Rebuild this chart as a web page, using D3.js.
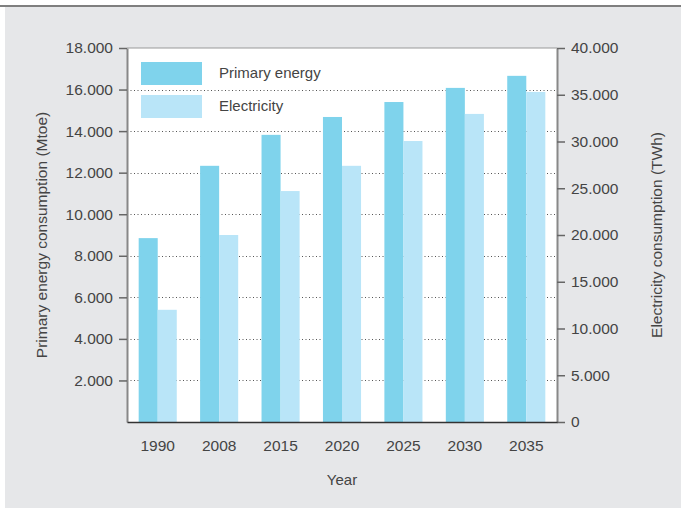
<!DOCTYPE html>
<html><head><meta charset="utf-8">
<script src="https://cdn.jsdelivr.net/npm/d3@7"></script>
<style>html,body{margin:0;padding:0;background:#fff;}svg{display:block;}text{font-family:"Liberation Sans",Arial,Helvetica,sans-serif;fill:#444;}</style>
</head><body>
<svg id="c" width="681" height="511"></svg>
<script>
const years = ["1990","2008","2015","2020","2025","2030","2035"];
const primaryEnergy = [8850, 12330, 13820, 14680, 15400, 16080, 16660];
const electricity = [12000, 20000, 24700, 27400, 30050, 32950, 35300];
const leftTicks = [2000,4000,6000,8000,10000,12000,14000,16000,18000];
const rightTicks = [0,5000,10000,15000,20000,25000,30000,35000,40000];
const seriesNames = ["Primary energy","Electricity"];
const colors = ["#7fd3ec","#b9e5f8"];

const svg = d3.select("#c");
const W=681,H=511;
const L=127,R=557,T=48,B=422;
const fmt = v => d3.format(",")(v).replace(/,/g,".");
const FF = "Liberation Sans, Arial, sans-serif";

svg.append("rect").attr("x",5).attr("y",7).attr("width",W-5).attr("height",501).attr("fill","#e6e7e9");
svg.append("line").attr("x1",0).attr("x2",W).attr("y1",6).attr("y2",6).attr("stroke","#555").attr("stroke-width",1.5);
svg.append("rect").attr("x",L).attr("y",T).attr("width",R-L).attr("height",B-T).attr("fill","#fff");

const x = d3.scaleBand().domain(years).range([L,R]).paddingInner(0.38).paddingOuter(0.19);
const xs = d3.scaleBand().domain(seriesNames).range([0,x.bandwidth()]);
const yL = d3.scaleLinear().domain([0,18000]).range([B,T]);
const yR = d3.scaleLinear().domain([0,40000]).range([B,T]);

// gridlines
svg.append("g").selectAll("line").data(leftTicks.filter(d=>d<18000)).join("line")
  .attr("x1",L).attr("x2",R).attr("y1",d=>Math.round(yL(d))+0.5).attr("y2",d=>Math.round(yL(d))+0.5)
  .attr("stroke","#555").attr("stroke-width",1).attr("stroke-dasharray","1,2.5");

// bars
const g = svg.append("g");
g.selectAll("rect.p").data(years).join("rect").attr("class","p")
  .attr("x",d=>x(d)+xs("Primary energy")).attr("width",xs.bandwidth())
  .attr("y",(d,i)=>yL(primaryEnergy[i])).attr("height",(d,i)=>B-yL(primaryEnergy[i]))
  .attr("fill",colors[0]);
g.selectAll("rect.e").data(years).join("rect").attr("class","e")
  .attr("x",d=>x(d)+xs("Electricity")).attr("width",xs.bandwidth())
  .attr("y",(d,i)=>yR(electricity[i])).attr("height",(d,i)=>B-yR(electricity[i]))
  .attr("fill",colors[1]);

// frame top
svg.append("line").attr("x1",L).attr("x2",R).attr("y1",T).attr("y2",T).attr("stroke","#999").attr("stroke-width",1);

// left axis
const ax = d3.axisLeft(yL).tickValues(leftTicks).tickFormat(fmt).tickSize(8).tickSizeOuter(0).tickPadding(6);
const gl = svg.append("g").attr("transform",`translate(${L},0)`).call(ax);
gl.select(".domain").attr("stroke","#888").attr("stroke-width",2);
gl.selectAll(".tick line").attr("stroke","#666").attr("stroke-width",1.5);
gl.selectAll(".tick text").attr("font-size",15.5).attr("fill","#444").style("font-family",FF);

// right axis
const ar = d3.axisRight(yR).tickValues(rightTicks).tickFormat(fmt).tickSize(8).tickSizeOuter(0).tickPadding(6);
const gr = svg.append("g").attr("transform",`translate(${R},0)`).call(ar);
gr.select(".domain").attr("stroke","#888").attr("stroke-width",2);
gr.selectAll(".tick line").attr("stroke","#666").attr("stroke-width",1.5);
gr.selectAll(".tick text").attr("font-size",15.5).attr("fill","#444").style("font-family",FF);

// bottom axis
const ab = d3.axisBottom(x).tickSize(0).tickSizeOuter(0).tickPadding(18);
const gb = svg.append("g").attr("transform",`translate(0,${B})`).call(ab);
gb.select(".domain").attr("stroke","#333").attr("stroke-width",1.5);
gb.selectAll(".tick text").attr("font-size",15.5).attr("fill","#444").style("font-family",FF);

// titles
svg.append("text").attr("x",(L+R)/2).attr("y",485).attr("text-anchor","middle").attr("font-size",15).text("Year");
svg.append("text").attr("transform",`translate(47,${(T+B)/2}) rotate(-90)`).attr("text-anchor","middle").attr("font-size",15.5).text("Primary energy consumption (Mtoe)");
svg.append("text").attr("transform",`translate(662,${(T+B)/2}) rotate(-90)`).attr("text-anchor","middle").attr("font-size",15.5).text("Electricity consumption (TWh)");

// legend
const lg = svg.append("g");
seriesNames.forEach((s,i)=>{
  lg.append("rect").attr("x",141).attr("y",62+i*33).attr("width",61).attr("height",23).attr("fill",colors[i]);
  lg.append("text").attr("x",219).attr("y",78+i*33).attr("font-size",15).text(s);
});
</script>
</body></html>
